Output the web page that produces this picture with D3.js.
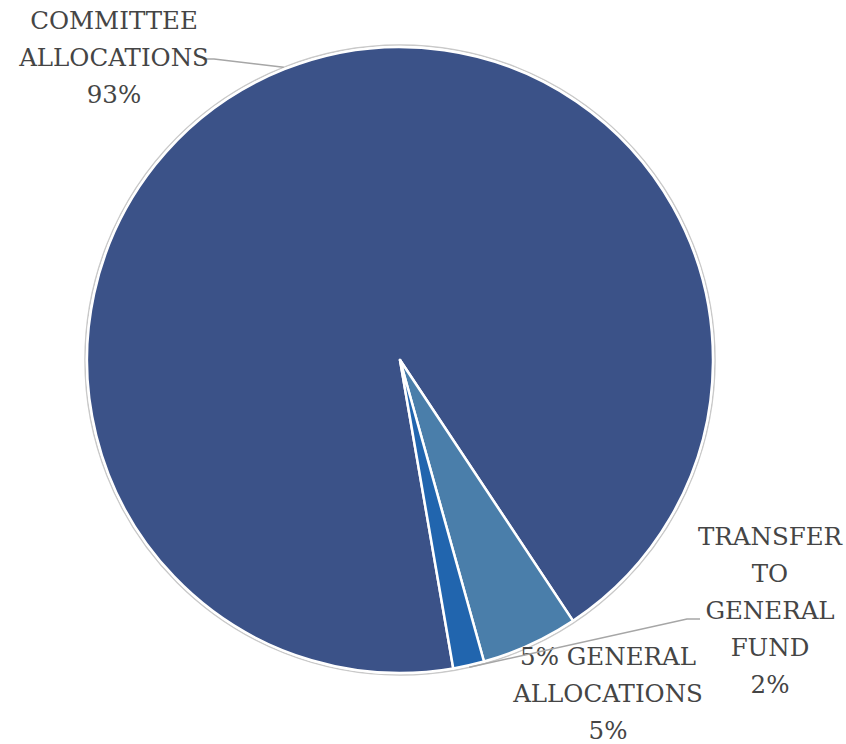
<!DOCTYPE html>
<html>
<head>
<meta charset="utf-8">
<script src="https://cdn.jsdelivr.net/npm/d3@7"></script>
<style>
  html, body { margin: 0; padding: 0; background: #ffffff; }
  svg { display: block; }
  .lbl { font-family: "DejaVu Serif", "Noto Serif", serif; }
</style>
</head>
<body>
<svg id="chart" width="846" height="744"></svg>
<script>
// Budget share by allocation type
const categories = ["COMMITTEE ALLOCATIONS", "5% GENERAL ALLOCATIONS", "TRANSFER TO GENERAL FUND"];
const values = [93.4, 5.0, 1.6];
const percentLabels = ["93%", "5%", "2%"];
const colors = ["#3B5288", "#4A7EAA", "#2165AE"];

const width = 846, height = 744;
const cx = 400, cy = 360, radius = 313;
const startDeg = 170.2;

const svg = d3.select("#chart");
const g = svg.append("g").attr("transform", `translate(${cx},${cy})`);

const pie = d3.pie()
  .sort(null)
  .value(d => d.value)
  .startAngle(startDeg * Math.PI / 180)
  .endAngle(startDeg * Math.PI / 180 + 2 * Math.PI);

const data = categories.map((c, i) => ({ name: c, value: values[i], pct: percentLabels[i], color: colors[i] }));
const arcs = pie(data);

const arc = d3.arc().innerRadius(0).outerRadius(radius);

// faint outline around the whole pie
g.append("circle")
  .attr("r", radius + 2)
  .attr("fill", "none")
  .attr("stroke", "#c9c9c9")
  .attr("stroke-width", 1.5);

g.selectAll("path.slice")
  .data(arcs)
  .join("path")
  .attr("class", "slice")
  .attr("d", arc)
  .attr("fill", d => d.data.color)
  .attr("stroke", "#ffffff")
  .attr("stroke-width", 2.5)
  .attr("stroke-linejoin", "round");

// point on the rim at the middle of a slice
function rimPoint(d, r) {
  const a = (d.startAngle + d.endAngle) / 2;
  return [cx + r * Math.sin(a), cy - r * Math.cos(a)];
}

const fontSize = 24.5;
const lineH = 37;

// label layout: text anchor centre, first baseline, optional leader elbow
const labelLayout = [
  { lines: ["COMMITTEE", "ALLOCATIONS"], x: 114, y: 29, leader: { from: [203, 59], elbow: [214, 59] } },
  { lines: ["5% GENERAL", "ALLOCATIONS"], x: 608, y: 665, leader: null },
  { lines: ["TRANSFER", "TO", "GENERAL", "FUND"], x: 770, y: 545, leader: { from: [700, 619], elbow: [687, 619] } }
];

const labels = svg.append("g");

arcs.forEach((d, i) => {
  const L = labelLayout[i];
  if (L.leader) {
    const end = rimPoint(d, radius + 2);
    labels.append("polyline")
      .attr("points", [L.leader.from, L.leader.elbow, end].map(p => p.join(",")).join(" "))
      .attr("fill", "none")
      .attr("stroke", "#a6a6a6")
      .attr("stroke-width", 1.5);
  }
  const t = labels.append("text")
    .attr("class", "lbl")
    .attr("text-anchor", "middle")
    .attr("font-size", fontSize)
    .attr("fill", "#454545");
  const allLines = L.lines.concat([d.data.pct]);
  allLines.forEach((ln, j) => {
    t.append("tspan")
      .attr("x", L.x)
      .attr("y", L.y + j * lineH)
      .text(ln);
  });
});
</script>
</body>
</html>
